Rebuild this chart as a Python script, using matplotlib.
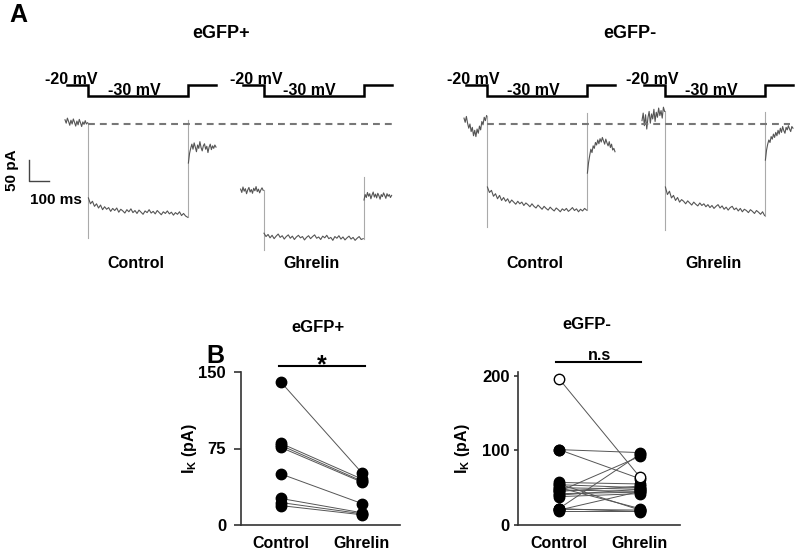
import numpy as np
import matplotlib
matplotlib.use('Agg')
from matplotlib import pyplot as plt

plt.rcParams['font.family'] = ['Liberation Sans', 'DejaVu Sans']
plt.rcParams['font.weight'] = 'bold'
plt.rcParams['axes.labelweight'] = 'bold'
plt.rcParams['mathtext.fontset'] = 'custom'
plt.rcParams['mathtext.rm'] = 'Liberation Sans:bold'
plt.rcParams['mathtext.it'] = 'Liberation Sans:bold'
plt.rcParams['mathtext.bf'] = 'Liberation Sans:bold'

# ---- Panel A: current traces (pA, relative to dashed baseline), times in ms ----
trace_names = ['Control', 'Ghrelin', 'Control', 'Ghrelin']
onsets = [440, 1318, 2435, 3325]          # step onset of each sweep (ms on the panel)

base_pA = [
    [10, 2, 14, 6, -3, 9, 0, 12, 4, -5, 7, -2, 11, 3, -6, 5, -1, 8, 0, 3],
    [-155, -163, -150, -160, -154, -166, -157, -151, -162, -156, -165, -153, -159, -149, -161,
     -155, -164, -157, -152, -158],
    [14, 4, 18, 2, -10, 0, -18, -8, -28, -15, -30, -12, -22, -5, -14, 6, -2, 16, 8, 20],
    [8, 26, -4, 22, -12, 15, 30, 2, 24, 12, 35, 6, 28, 16, 38, 20, 32, 14, 40, 30],
]
peak_on = [-271, -300, -245, -252]
step_pA = [
    [-176, -190, -184, -196, -190, -200, -193, -204, -197, -203, -199, -208, -201, -206, -200,
     -210, -203, -207, -212, -204, -209, -202, -211, -206, -213, -205, -210, -215, -207, -211,
     -204, -212, -208, -214, -206, -211, -216, -209, -213, -207, -214, -210, -217, -211, -215,
     -209, -218, -213, -219, -222],
    [-260, -268, -263, -271, -265, -273, -267, -262, -270, -266, -274, -268, -264, -272, -267,
     -275, -269, -265, -271, -268, -276, -270, -266, -273, -268, -264, -272, -269, -275, -267,
     -271, -265, -273, -270, -277, -268, -272, -266, -274, -269, -276, -271, -267, -274, -270,
     -277, -272, -268, -275, -273],
    [-150, -163, -158, -172, -166, -178, -170, -182, -175, -184, -178, -188, -181, -186, -191,
     -184, -190, -186, -194, -188, -192, -197, -190, -196, -200, -193, -198, -203, -196, -201,
     -205, -198, -203, -207, -200, -204, -209, -202, -206, -201, -208, -204, -199, -206, -202,
     -209, -203, -207, -201, -205],
    [-150, -168, -160, -176, -170, -182, -175, -186, -180, -184, -190, -183, -188, -193, -186,
     -191, -195, -188, -194, -190, -197, -192, -199, -194, -201, -196, -192, -200, -195, -203,
     -198, -205, -199, -196, -204, -200, -207, -201, -209, -203, -206, -211, -204, -208, -213,
     -206, -210, -215, -209, -218],
]
peak_off = [10, -126, 26, 29]
post_pA = [
    [-93, -70, -58, -48, -60, -45, -55, -66, -50, -58, -42, -56, -64, -52, -47, -60, -53, -68,
     -55, -48, -61, -52, -58, -50, -55],
    [-181, -168, -175, -163, -172, -166, -178, -169, -162, -174, -167, -176, -165, -171, -179,
     -168, -173, -164, -170, -177, -166, -172, -168, -175, -170],
    [-117, -92, -75, -60, -68, -52, -58, -44, -50, -38, -47, -35, -43, -32, -40, -48, -36, -45,
     -52, -42, -56, -48, -62, -58, -66],
    [-86, -62, -48, -38, -44, -30, -36, -24, -32, -20, -28, -15, -24, -10, -20, -6, -16, -22,
     -8, -14, -4, -12, -18, -6, -10],
]

# voltage protocol
proto_t = [-105, 0, 0, 500, 500, 640]
proto_mV = [-20, -20, -30, -30, -20, -20]
label20_dt = [-85, -35, -70, -65]

# ---- Panel B: I_K values (pA) ----
gfp_pos_ctrl = [140, 80, 78, 76, 50, 26, 22, 19]
gfp_pos_ghr = [51, 45, 43, 42, 21, 12, 11, 10]

gfp_neg_ctrl = [101, 101, 22, 45, 55, 50, 57, 54, 50, 47, 45, 42, 40, 38, 21, 19, 20, 22]
gfp_neg_ghr = [97, 62, 95, 92, 20, 22, 55, 50, 48, 45, 52, 44, 48, 42, 20, 19, 45, 18]
gfp_neg_open_ctrl = [196]
gfp_neg_open_ghr = [64]

W, H = 800, 554
fig = plt.figure(figsize=(8.0, 5.54), dpi=100)


def fx(px):
    return px / W


def fy(py):
    return 1 - py / H


# traces axes: x in ms (5 ms per px), y in pA (50 pA = 21 px), 0 pA at px 124
ax_a = fig.add_axes([0, fy(280), 1, (280 - 40) / H])
ax_a.set_xlim(0, 4000)
ax_a.set_ylim(-(280 - 124) * 50 / 21, (124 - 40) * 50 / 21)
ax_a.axis('off')

ax_v = fig.add_axes([0, fy(105), 1, 30 / H])
ax_v.set_xlim(0, 4000)
ax_v.set_ylim(-20 - 20 / 1.15, -20 + 10 / 1.15)
ax_v.axis('off')

for i in range(4):
    t0 = onsets[i]
    tb = np.linspace(-115, -2, len(base_pA[i])) + t0
    ts = np.linspace(2, 498, len(step_pA[i])) + t0
    tp = np.linspace(502, 640, len(post_pA[i])) + t0
    # capacitive transients (thin, light)
    ax_a.plot([t0, t0], [base_pA[i][-1], peak_on[i]], color='#aaaaaa', lw=0.8)
    ax_a.plot([t0 + 500, t0 + 500], [min(step_pA[i][-1], post_pA[i][0]), peak_off[i]],
              color='#aaaaaa', lw=0.8)
    ax_a.plot(tb, base_pA[i], color='#555555', lw=0.8)
    ax_a.plot(ts, step_pA[i], color='#555555', lw=0.8)
    ax_a.plot(tp, post_pA[i], color='#555555', lw=0.8)
    ax_v.plot(np.array(proto_t) + t0, proto_mV, color='black', lw=1.8,
              solid_joinstyle='miter')
    ax_v.text(t0 + label20_dt[i], -19.3, '-20 mV', ha='center', va='baseline',
              fontsize=11.5, fontweight='bold')
    ax_v.text(t0 + 230, -28.8, '-30 mV', ha='center', va='baseline', fontsize=11.5,
              fontweight='bold')
    ax_a.text(t0 + 240, -(263 - 124) * 50 / 21, trace_names[i], ha='center', va='center',
              fontsize=11.5, fontweight='bold')

# dashed reference line at baseline current
ax_a.plot([onsets[0], 1975], [0, 0], color='#777777', lw=1.5, dashes=(3.3, 2.4))
ax_a.plot([onsets[2], 3950], [0, 0], color='#777777', lw=1.5, dashes=(3.3, 2.4))

# scale bar: 50 pA / 100 ms
sb_y = -(181 - 124) * 50 / 21
ax_a.plot([145, 145, 245], [sb_y + 50, sb_y, sb_y], color='#444444', lw=1.0)
ax_a.text(60, sb_y + 25, '50 pA', rotation=90, ha='center', va='center', fontsize=11,
          fontweight='bold')
ax_a.text(280, -(200 - 124) * 50 / 21, '100 ms', ha='center', va='center', fontsize=11,
          fontweight='bold')

fig.text(fx(18), fy(15), 'A', ha='center', va='center', fontsize=18, fontweight='bold')
fig.text(fx(221), fy(33), 'eGFP+', ha='center', va='center', fontsize=13, fontweight='bold')
fig.text(fx(630), fy(33), 'eGFP-', ha='center', va='center', fontsize=13, fontweight='bold')
fig.text(fx(215), fy(356), 'B', ha='center', va='center', fontsize=18, fontweight='bold')


def style_ax(ax, yticks, tlen, tpad, lab_x):
    for s in ['top', 'right']:
        ax.spines[s].set_visible(False)
    for s in ['left', 'bottom']:
        ax.spines[s].set_linewidth(1.2)
        ax.spines[s].set_color('#333333')
    ax.set_xticks([0, 1])
    ax.set_xticklabels(['Control', 'Ghrelin'], fontsize=11.5, fontweight='bold')
    ax.tick_params(axis='x', length=0, pad=8)
    ax.set_yticks(yticks)
    ax.set_yticklabels([str(v) for v in yticks], fontsize=12, fontweight='bold')
    ax.tick_params(axis='y', length=tlen, width=1.2, pad=tpad, color='#333333')
    ax.set_ylabel(r'I$_{\rm K}$ (pA)', fontsize=11.5, fontweight='bold')
    ax.yaxis.set_label_coords(lab_x, 0.5)


# eGFP+ summary
ax1 = fig.add_axes([fx(241), fy(525), fx(400 - 241), (525 - 372) / H])
for c, g in zip(gfp_pos_ctrl, gfp_pos_ghr):
    ax1.plot([0, 1], [c, g], color='#555555', lw=0.7, zorder=2)
ax1.plot(np.zeros(len(gfp_pos_ctrl)), gfp_pos_ctrl, 'o', color='black', ms=7.5, zorder=3,
         clip_on=False)
ax1.plot(np.ones(len(gfp_pos_ghr)), gfp_pos_ghr, 'o', color='black', ms=7.5, zorder=3,
         clip_on=False)
ax1.set_xlim(-40 / 81, 1 + 38 / 81)
ax1.set_ylim(0, 150)
style_ax(ax1, [0, 75, 150], 5, 5.8, -0.264)
ax1.plot([-0.025, 1.037], [156, 156], color='black', lw=1.5, clip_on=False)
ax1.text(0.5, 150, '*', ha='center', va='baseline', fontsize=18, fontweight='bold')
ax1.text(0.457, 194, 'eGFP+', ha='center', va='center', fontsize=12, fontweight='bold')

# eGFP- summary
ax2 = fig.add_axes([fx(518), fy(525), fx(680 - 518), (525 - 372) / H])
for c, g in zip(gfp_neg_ctrl + gfp_neg_open_ctrl, gfp_neg_ghr + gfp_neg_open_ghr):
    ax2.plot([0, 1], [c, g], color='#555555', lw=0.7, zorder=2)
ax2.plot(np.zeros(len(gfp_neg_ctrl)), gfp_neg_ctrl, 'o', color='black', ms=7.5, zorder=3,
         clip_on=False)
ax2.plot(np.ones(len(gfp_neg_ghr)), gfp_neg_ghr, 'o', color='black', ms=7.5, zorder=3,
         clip_on=False)
ax2.plot(np.zeros(1), gfp_neg_open_ctrl, 'o', mfc='white', mec='black', mew=1.0, ms=7.5,
         zorder=4, clip_on=False)
ax2.plot(np.ones(1), gfp_neg_open_ghr, 'o', mfc='white', mec='black', mew=1.0, ms=7.5,
         zorder=4, clip_on=False)
ax2.set_xlim(-41 / 81, 1 + 40 / 81)
ax2.set_ylim(0, 205)
style_ax(ax2, [0, 100, 200], 3, 3, -0.284)
ax2.plot([-0.04, 1.01], [219, 219], color='black', lw=1.5, clip_on=False)
ax2.text(0.5, 221.5, 'n.s', ha='center', va='baseline', fontsize=11.5, fontweight='bold')
ax2.text(0.346, 268, 'eGFP-', ha='center', va='center', fontsize=12, fontweight='bold')

fig.savefig('out.png', dpi=100, facecolor='white')
